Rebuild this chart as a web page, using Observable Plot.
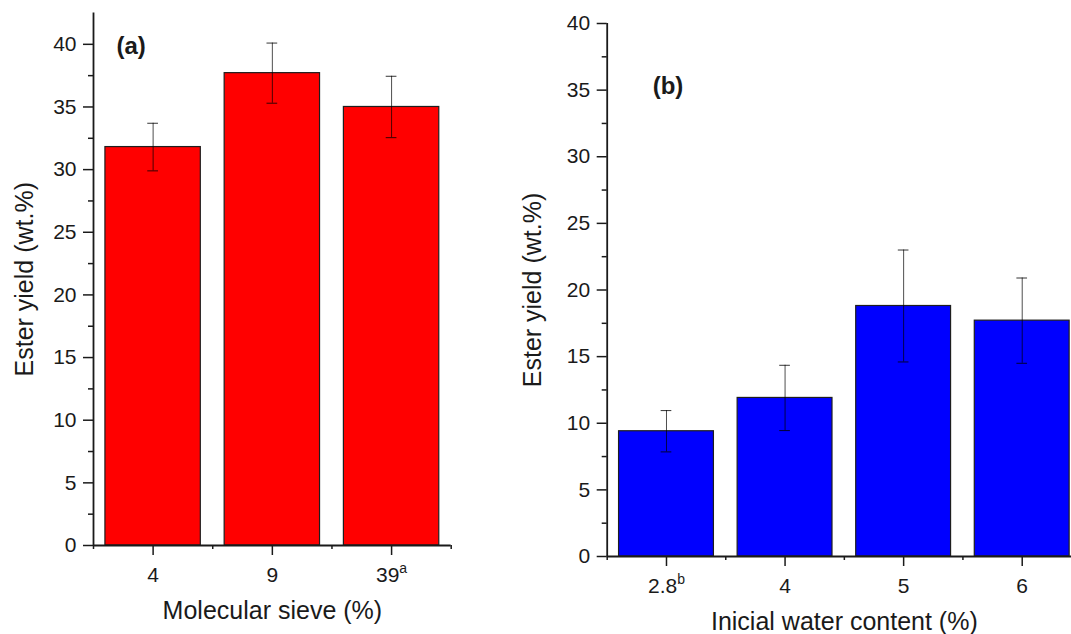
<!DOCTYPE html>
<html>
<head>
<meta charset="utf-8">
<script src="https://cdn.jsdelivr.net/npm/d3@7"></script>
<script src="https://cdn.jsdelivr.net/npm/@observablehq/plot@0.6"></script>
<style>
  html, body { margin: 0; padding: 0; background: #fff; overflow: hidden; }
  #wrap { position: relative; width: 1071px; height: 634px; overflow: hidden; }
  #panelA, #panelB { position: absolute; top: 0; }
  #panelA { left: 0; width: 470px; }
  #panelB { left: 520px; width: 561px; }
</style>
</head>
<body>
<div id="wrap"><div id="panelA"></div><div id="panelB"></div></div>
<script>
// (a) ester yield vs. molecular sieve loading
const sieveLabels = ["4", "9", "39"];
const sieveSup = ["", "", "a"];
const sieveYield = [31.8, 37.7, 35.0];
const sieveSD = [1.9, 2.4, 2.45];

// (b) ester yield vs. initial water content
const waterLabels = ["2.8", "4", "5", "6"];
const waterSup = ["b", "", "", ""];
const waterYield = [9.4, 11.9, 18.8, 17.7];
const waterSD = [1.55, 2.45, 4.2, 3.2];

const yMajor = [0, 5, 10, 15, 20, 25, 30, 35, 40];
const yMinor = [2.5, 7.5, 12.5, 17.5, 22.5, 27.5, 32.5, 37.5];

const yTitle = "Ester yield (wt.%)";
const FONT = "'Liberation Sans', Arial, Helvetica, sans-serif";
const INK = "#1a1a1a";

function barPanel(o) {
  const n = o.labels.length;
  const rows = o.labels.map((label, k) => ({i: k + 1, label, value: o.values[k], sd: o.sds[k]}));
  const centers = d3.range(1, n + 1);
  const edges = d3.range(0.5, n + 1, 1);
  const capHalf = 0.045;

  const chart = Plot.plot({
    width: o.width,
    height: 634,
    marginLeft: o.ml,
    marginRight: o.mr,
    marginTop: o.mt,
    marginBottom: o.mb,
    style: {fontFamily: FONT, fontSize: "21px", color: INK, background: "transparent",
      overflow: "visible", maxWidth: "none"},
    x: {domain: [0.5, n + 0.5], axis: null},
    y: {domain: [0, o.yMax], axis: null},
    marks: [
      Plot.rectY(rows, {x1: d => d.i - 0.4, x2: d => d.i + 0.4, y1: 0, y2: "value",
        fill: o.fill, stroke: "#1e1e1e", strokeWidth: 1.2}),
      Plot.ruleX(rows, {x: "i", y1: d => d.value - d.sd, y2: d => d.value + d.sd, stroke: "#000", strokeWidth: 0.7}),
      Plot.ruleY(rows, {y: d => d.value + d.sd, x1: d => d.i - capHalf, x2: d => d.i + capHalf, stroke: "#000", strokeWidth: 0.8}),
      Plot.ruleY(rows, {y: d => d.value - d.sd, x1: d => d.i - capHalf, x2: d => d.i + capHalf, stroke: "#000", strokeWidth: 0.8}),
      Plot.ruleX([0.5], {stroke: INK, strokeWidth: 1.8}),
      Plot.ruleY([0], {stroke: INK, strokeWidth: 1.8}),
      Plot.axisY({ticks: yMajor, label: null, tickSize: 10, tickPadding: 7, fontSize: 21, strokeWidth: 1.5}),
      Plot.axisY({ticks: yMinor, label: null, tickSize: 5, tickFormat: () => "", strokeWidth: 1.5}),
      Plot.axisX({ticks: centers, label: null, tickSize: 10, tickPadding: 12, fontSize: 21, strokeWidth: 1.5,
        tickFormat: i => o.labels[i - 1]}),
      Plot.axisX({ticks: edges, label: null, tickSize: 4, tickFormat: () => "", strokeWidth: 1.5}),
      Plot.text([o.xTitle], {frameAnchor: "bottom", lineAnchor: "bottom", textAnchor: "middle",
        dy: 73.5, fontSize: 25, fill: INK}),
      Plot.text([yTitle], {frameAnchor: "left", rotate: -90, lineAnchor: "bottom", textAnchor: "middle",
        dx: o.yTitleDx, fontSize: 25, fill: INK}),
      Plot.text([o.tag], {frameAnchor: "top-left", textAnchor: "start", lineAnchor: "bottom",
        dx: o.tagDx, dy: o.tagDy, fontSize: 24, fontWeight: "bold", fill: INK})
    ]
  });

  // superscript markers on category labels
  chart.querySelectorAll('g[aria-label="x-axis tick label"] text').forEach(t => {
    const k = o.labels.indexOf(t.textContent);
    if (k >= 0 && o.sups[k]) {
      const ts = document.createElementNS("http://www.w3.org/2000/svg", "tspan");
      ts.setAttribute("dy", "-9");
      ts.setAttribute("font-size", "14");
      ts.textContent = o.sups[k];
      t.appendChild(ts);
    }
  });
  return chart;
}

document.getElementById("panelA").append(barPanel({
  labels: sieveLabels, sups: sieveSup, values: sieveYield, sds: sieveSD,
  fill: "#ff0000", yMax: 42.5,
  width: 470, ml: 93, mr: 19.3, mt: 12.5, mb: 89,
  xTitle: "Molecular sieve (%)", yTitleDx: -61,
  tag: "(a)", tagDx: 23, tagDy: 40.5
}));

document.getElementById("panelB").append(barPanel({
  labels: waterLabels, sups: waterSup, values: waterYield, sds: waterSD,
  fill: "#0000ff", yMax: 40,
  width: 561, ml: 86.7, mr: 0, mt: 23, mb: 78,
  xTitle: "Inicial water content (%)", yTitleDx: -66,
  tag: "(b)", tagDx: 45.5, tagDy: 70
}));
</script>
</body>
</html>
